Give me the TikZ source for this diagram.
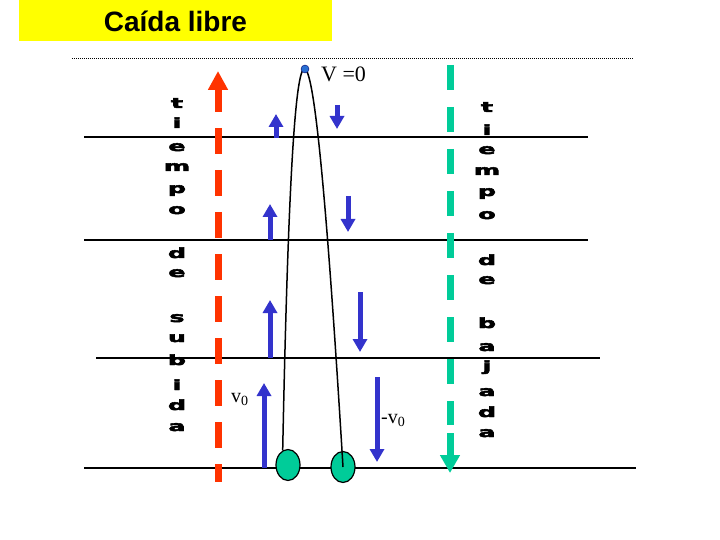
\documentclass[tikz,border=0pt]{standalone}
\usepackage{fontspec}
\setmainfont{Liberation Serif}
\newfontfamily\arialfont{Liberation Sans}
\newfontfamily\letterfont[BoldFeatures={FakeBold=3}]{DejaVu Sans}
\usetikzlibrary{arrows.meta, shapes.geometric}
\definecolor{titleyellow}{RGB}{255,255,0}
\definecolor{riseorange}{RGB}{255,51,0}
\definecolor{fallgreen}{RGB}{0,204,153}
\definecolor{velblue}{RGB}{51,51,204}
\definecolor{dotblue}{RGB}{40,110,210}
\tikzset{
    level line/.style={line width=2pt, black},
    vel arrow/.style={line width=5pt, velblue, -{Triangle[width=14pt, length=13pt]}},
    rise line/.style={line width=7pt, riseorange},
    fall line/.style={line width=7pt, fallgreen},
    ball/.style={ellipse, draw=black, line width=1.2pt, fill=fallgreen, minimum width=24pt, minimum height=31pt, inner sep=0pt},
    letter/.style={font=\letterfont\bfseries\fontsize{14}{14}\selectfont, xscale=1.8, anchor=base, inner sep=0pt},
    vlabel/.style={font=\fontsize{20}{22}\selectfont, anchor=base west, inner sep=0pt},
}
\newcommand{\drawword}[3]{
    % #1 = name prefix, #2 = column x, #3 = letter/baseline pairs
    \foreach \ch/\y in {#3} {
        \node[letter] (#1\y) at (#2,\y) {\ch};
    }
}

\begin{document}
\begin{tikzpicture}[x=1pt, y=-1pt]
    \useasboundingbox (0,0) rectangle (720,540);
    % title
    \node[fill=titleyellow, minimum width=313pt, minimum height=41pt, inner sep=0pt,
          font=\arialfont\bfseries\fontsize{28}{30}\selectfont] (title) at (175.5,21) {Caída libre};
    % levels
    \draw[line width=1pt, dash pattern=on 1pt off 1pt] (72,59) -- (634,59);
    \foreach \y/\xa/\xb in {137/84/588, 240/84/588, 358/96/600, 468/84/636} {
        \draw[level line] (\xa,\y) -- (\xb,\y);
    }
    % rising / falling time
    \draw[rise line, dash pattern=on 26pt off 16pt] (218,128) -- (218,482);
    \draw[rise line, -{Triangle[width=19pt, length=19pt]}] (218,112) -- (218,71);
    \draw[fall line, dash pattern=on 25pt off 17pt] (450,65) -- (450,425);
    \draw[fall line, -{Triangle[width=19pt, length=18pt]}] (450,433) -- (450,473);
    \drawword{up}{177}{t/108, i/128, e/151, m/171, p/193, o/214, d/258, e/277, s/322, u/342, b/365, i/390, d/410, a/431}
    \drawword{down}{487}{t/112, i/135, e/154, m/175, p/196, o/219, d/265, e/284, b/328, a/351, j/371, a/396, d/417, a/437}
    % velocities
    \foreach \x/\ya/\yb in {276/138/114, 270/240/204, 270/358/300, 264/468/383,
                            337/105/129, 348/196/232, 360/292/352, 377/377/462} {
        \draw[vel arrow] (\x,\ya) -- (\x,\yb);
    }
    % trajectory
    \node[ball] (launch) at (288,465) {};
    \node[ball] (landing) at (343,467) {};
    \draw[line width=1.5pt] (launch.110) .. controls (293,-61) and (311,-61) .. (landing.center);
    \node[circle, fill=dotblue, draw=blue!40!black, inner sep=0pt, minimum size=8pt] (apex) at (305,69) {};
    \node[vlabel, font=\fontsize{22}{24}\selectfont] (vzero) at (321,82) {V =0};
    \node[vlabel] (vup) at (231,402) {v\textsubscript{0}};
    \node[vlabel] (vdown) at (381,423) {-v\textsubscript{0}};
\end{tikzpicture}
\end{document}
